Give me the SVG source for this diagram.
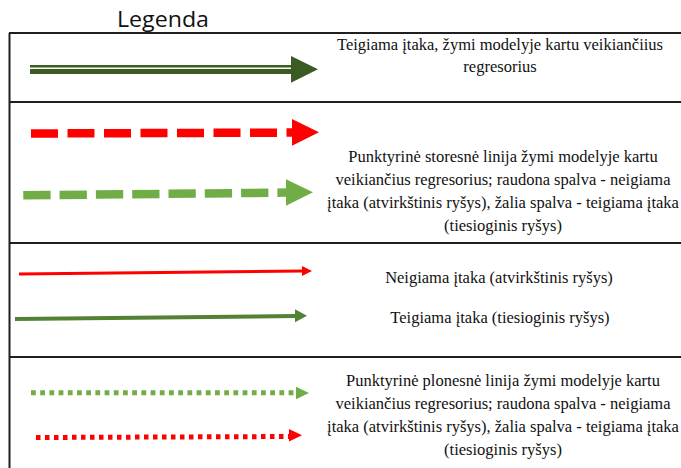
<svg xmlns="http://www.w3.org/2000/svg" width="681" height="468" viewBox="0 0 681 468">
  <style>
    .rule { stroke: #1f1f1f; stroke-width: 2; fill: none; }
    .lbl { font-family: "Liberation Serif", "Times New Roman", serif; font-size: 16.5px; fill: #111; text-anchor: middle; }
    .ttl { font-family: "Open Sans", "Liberation Sans", sans-serif; font-size: 21px; fill: #111; }
    .red { stroke: #ff0000; fill: none; }
    .lgreen { stroke: #70ad47; fill: none; }
    .mgreen { stroke: #548235; fill: none; }
    .dgreen { stroke: #3b5b25; fill: none; }
  </style>

  <rect width="681" height="468" fill="#ffffff"/>

  <!-- title -->
  <g id="title">
    <text class="ttl" x="117" y="27" textLength="92" lengthAdjust="spacingAndGlyphs">Legenda</text>
  </g>

  <!-- table frame -->
  <g id="frame">
    <line class="rule" x1="9.5" y1="33" x2="9.5" y2="468"/>
    <line class="rule" x1="9" y1="33" x2="681" y2="33"/>
    <line class="rule" x1="9" y1="102" x2="681" y2="102"/>
    <line class="rule" x1="9" y1="243" x2="681" y2="243"/>
    <line class="rule" x1="9" y1="357" x2="681" y2="357"/>
  </g>

  <!-- sample arrows -->
  <g id="connectors">
    <!-- double line, dark green -->
    <g id="arrow-double">
      <line class="dgreen" x1="30" y1="66.3" x2="292" y2="66.3" stroke-width="2.6"/>
      <line class="dgreen" x1="30" y1="71.5" x2="292" y2="71.5" stroke-width="5"/>
      <polygon points="291,56 318,69.3 291,82.7" fill="#3b5b25"/>
    </g>
    <!-- thick dashed, red -->
    <g id="arrow-dash-red">
      <line class="red" x1="31" y1="133.5" x2="292" y2="132.6" stroke-width="8.5" stroke-dasharray="27 9.5"/>
      <polygon points="292,119 319,132.3 292,145.7" fill="#ff0000"/>
    </g>
    <!-- thick dashed, green -->
    <g id="arrow-dash-green">
      <line class="lgreen" x1="23.3" y1="195.3" x2="286" y2="192.6" stroke-width="8.5" stroke-dasharray="27.3 9"/>
      <polygon points="286,179.3 313,192.3 286,205.7" fill="#70ad47"/>
    </g>
    <!-- solid, red -->
    <g id="arrow-solid-red">
      <line class="red" x1="19" y1="274" x2="303" y2="271" stroke-width="2.8"/>
      <polygon points="302,266 312,271 302,276" fill="#ff0000"/>
    </g>
    <!-- solid, green -->
    <g id="arrow-solid-green">
      <line class="mgreen" x1="15" y1="319" x2="296" y2="316" stroke-width="4"/>
      <polygon points="295,309.3 307,315.8 295,322.3" fill="#548235"/>
    </g>
    <!-- thin dotted, green -->
    <g id="arrow-dot-green">
      <line class="lgreen" x1="31" y1="392.7" x2="296" y2="392.7" stroke-width="5" stroke-dasharray="4.8 4.4"/>
      <polygon points="296,386.7 309,393 296,399.3" fill="#70ad47"/>
    </g>
    <!-- thin dotted, red -->
    <g id="arrow-dot-red">
      <line class="red" x1="36" y1="437.5" x2="289" y2="436.5" stroke-width="5" stroke-dasharray="4.5 4.5"/>
      <polygon points="289,429 302,435.3 289,441.6" fill="#ff0000"/>
    </g>
  </g>

  <!-- row labels -->
  <g id="label-row1">
    <text class="lbl" x="500" y="50">Teigiama įtaka, žymi modelyje kartu veikiančiius</text>
    <text class="lbl" x="500" y="72">regresorius</text>
  </g>
  <g id="label-row2">
    <text class="lbl" x="503" y="162">Punktyrinė storesnė linija žymi modelyje kartu</text>
    <text class="lbl" x="503" y="185">veikiančius regresorius; raudona spalva - neigiama</text>
    <text class="lbl" x="503" y="208">įtaka (atvirkštinis ryšys), žalia spalva - teigiama įtaka</text>
    <text class="lbl" x="503" y="231">(tiesioginis ryšys)</text>
  </g>
  <g id="label-row3">
    <text class="lbl" x="499" y="283">Neigiama įtaka (atvirkštinis ryšys)</text>
    <text class="lbl" x="500" y="323">Teigiama įtaka (tiesioginis ryšys)</text>
  </g>
  <g id="label-row4">
    <text class="lbl" x="503" y="386">Punktyrinė plonesnė linija žymi modelyje kartu</text>
    <text class="lbl" x="503" y="409">veikiančius regresorius; raudona spalva - neigiama</text>
    <text class="lbl" x="503" y="432">įtaka (atvirkštinis ryšys), žalia spalva - teigiama įtaka</text>
    <text class="lbl" x="503" y="455">(tiesioginis ryšys)</text>
  </g>
</svg>
